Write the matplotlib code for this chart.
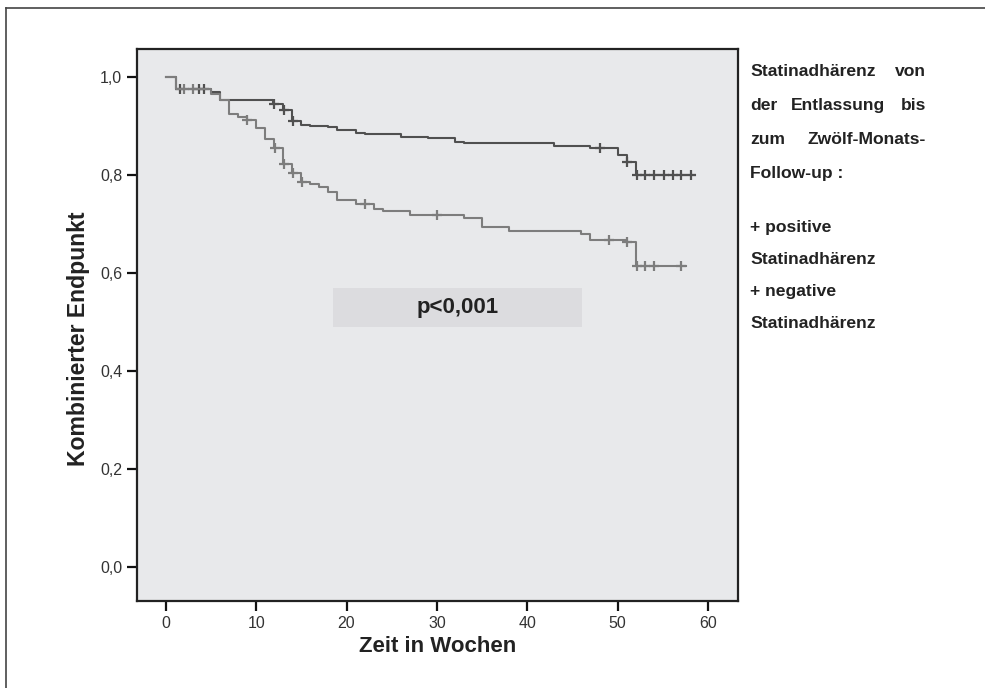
import numpy as np
import matplotlib.pyplot as plt
from matplotlib.patches import Rectangle
from matplotlib.lines import Line2D

plt.rcParams['font.family'] = ['Liberation Sans', 'DejaVu Sans']

# Kaplan-Meier steps (time in weeks, survival)
t_pos = [0, 1.1, 5.0, 6.0, 11.9, 13.0, 14.0, 15.0, 16.0, 18.0, 19.0, 21.0, 22.0,
         26.0, 29.0, 32.0, 33.0, 43.0, 47.0, 50.0, 51.0, 52.0]
s_pos = [1.0, 0.976, 0.969, 0.953, 0.945, 0.932, 0.910, 0.902, 0.900, 0.897, 0.892,
         0.886, 0.883, 0.878, 0.875, 0.867, 0.864, 0.858, 0.854, 0.841, 0.826, 0.800]
end_pos = 58.6
cens_pos = [1.6, 3.7, 4.2, 12.0, 13.1, 14.1, 48.1, 51.0, 52.1, 53.0, 54.0, 55.1,
            56.1, 57.0, 58.1]

t_neg = [0, 1.1, 5.0, 6.0, 7.0, 8.0, 9.0, 10.0, 11.0, 12.0, 13.0, 14.0, 15.0, 16.0,
         17.0, 18.0, 19.0, 21.0, 23.0, 24.0, 27.0, 33.0, 35.0, 38.0, 46.0, 47.0,
         51.0, 52.0]
s_neg = [1.0, 0.976, 0.965, 0.953, 0.925, 0.918, 0.912, 0.896, 0.873, 0.854, 0.822,
         0.803, 0.785, 0.782, 0.776, 0.764, 0.749, 0.741, 0.731, 0.725, 0.718, 0.712,
         0.693, 0.686, 0.679, 0.667, 0.662, 0.613]
end_neg = 57.6
cens_neg = [2.0, 3.0, 9.0, 12.1, 13.1, 14.1, 15.1, 22.0, 30.0, 49.1, 51.0, 52.1,
            53.0, 54.0, 57.0]

xticks = [0, 10, 20, 30, 40, 50, 60]
yticks = [0.0, 0.2, 0.4, 0.6, 0.8, 1.0]
ytick_labels = ['0,0', '0,2', '0,4', '0,6', '0,8', '1,0']

legend_head = ['Statinadhärenz von', 'der Entlassung bis', 'zum Zwölf-Monats-',
               'Follow-up :']
legend_items = ['+ positive', 'Statinadhärenz', '+ negative', 'Statinadhärenz']


def step_value(times, surv, t):
    i = np.searchsorted(times, t, side='right') - 1
    return surv[i]


fig = plt.figure(figsize=(9.85, 6.88), dpi=100)
ax = fig.add_axes([0.139, 0.1265, 0.610, 0.8025])
ax.set_facecolor('#e8e9eb')

for times, surv, end, cens, col in [(t_pos, s_pos, end_pos, cens_pos, '#505050'),
                                     (t_neg, s_neg, end_neg, cens_neg, '#7d7d7d')]:
    ax.step(times + [end], surv + [surv[-1]], where='post', color=col, lw=1.5)
    cy = [step_value(times, surv, c) for c in cens]
    ax.plot(cens, cy, ls='none', marker='+', ms=7, mew=1.6, color=col)

ax.set_xlim(-3.2, 63.3)
ax.set_ylim(-0.07, 1.057)
ax.set_xticks(xticks)
ax.set_yticks(yticks)
ax.set_yticklabels(ytick_labels)
ax.tick_params(direction='out', length=7, width=1.6, labelsize=11.5, colors='#111',
               labelcolor='#333')
for sp in ax.spines.values():
    sp.set_linewidth(1.6)
    sp.set_color('#222')

ax.set_xlabel('Zeit in Wochen', fontsize=16, fontweight='bold', color='#222', labelpad=4)
ax.set_ylabel('Kombinierter Endpunkt', fontsize=16.6, fontweight='bold', color='#222')
ax.yaxis.set_label_coords(-0.078, 0.475)

# p-value box
ax.add_patch(Rectangle((18.5, 0.490), 27.6, 0.079, facecolor='#dcdcdf',
                       edgecolor='none', zorder=1))
ax.text(32.3, 0.530, 'p<0,001', ha='center', va='center', fontsize=16,
        fontweight='bold', color='#222')

# legend text on the right, justified like the original (baseline aligned)
x_left = 750 / 985
x_right = 926 / 985
kw = dict(fontsize=12.6, fontweight='bold', color='#222', va='baseline')
for i, line in enumerate(legend_head):
    y = 1 - (76 + i * 34) / 688
    words = line.split(' ')
    if i < 3:
        fig.text(x_left, y, words[0], ha='left', **kw)
        fig.text(x_right, y, words[-1], ha='right', **kw)
        if len(words) == 3:
            fig.text(838 / 985, y, words[1], ha='center', **kw)
    else:
        fig.text(x_left, y, line, ha='left', **kw)
for i, line in enumerate(legend_items):
    y = 1 - (232 + i * 32) / 688
    fig.text(x_left, y, line, ha='left', **kw)

# outer frame (left and top edges)
fig.add_artist(Line2D([6 / 985, 6 / 985], [0, 1 - 8 / 688], color='#444', lw=1.2))
fig.add_artist(Line2D([6 / 985, 1], [1 - 8 / 688, 1 - 8 / 688], color='#444', lw=1.2))

fig.savefig('out.png', dpi=100)
